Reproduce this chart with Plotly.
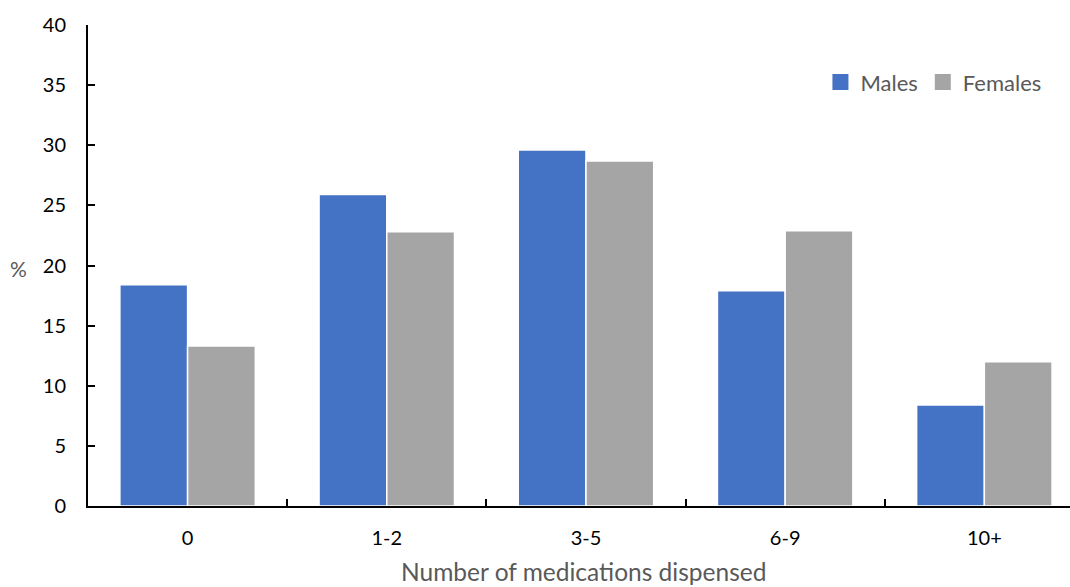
import plotly.graph_objects as go

categories = ["0", "1-2", "3-5", "6-9", "10+"]
males = [18.4, 25.9, 29.6, 17.9, 8.4]
females = [13.3, 22.8, 28.7, 22.9, 12.0]
y_ticks = [0, 5, 10, 15, 20, 25, 30, 35, 40]

FONT = "Lato"
GREY_TEXT = "#595959"
BLUE = "#4472C4"
GREY_BAR = "#A5A5A5"

fig = go.Figure()
fig.add_trace(go.Bar(x=categories, y=males, name="Males", showlegend=False,
                     marker=dict(color=BLUE, line=dict(color="white", width=1.5))))
fig.add_trace(go.Bar(x=categories, y=females, name="Females", showlegend=False,
                     marker=dict(color=GREY_BAR, line=dict(color="white", width=1.5))))

# legend entries with larger square swatches
for name, color in [("Males", BLUE), ("Females", GREY_BAR)]:
    fig.add_trace(go.Scatter(x=[None], y=[None], mode="markers", name=name,
                             marker=dict(symbol="square", size=16, color=color)))

fig.update_layout(
    width=1070, height=587,
    margin=dict(l=88, r=0, t=25, b=81),
    paper_bgcolor="white", plot_bgcolor="white",
    barmode="group", bargap=0.32, bargroupgap=0.0,
    font=dict(family=FONT, size=20, color="black"),
    showlegend=True,
    legend=dict(orientation="h", x=0.976, xanchor="right", y=0.881, yanchor="middle",
                font=dict(family=FONT, size=22, color=GREY_TEXT),
                itemsizing="trace", itemwidth=30, traceorder="normal",
                bgcolor="rgba(0,0,0,0)"),
    xaxis=dict(
        type="category", range=[-0.5, 4.43],
        showline=True, linecolor="black", linewidth=2,
        ticks="inside", tickson="boundaries", ticklen=7, tickcolor="black", tickwidth=1.5,
        ticklabelstandoff=13,
        tickfont=dict(family=FONT, size=20, color="black"),
        showgrid=False, zeroline=False,
    ),
    yaxis=dict(
        range=[0, 40], tickvals=y_ticks,
        showline=True, linecolor="black", linewidth=2,
        ticks="inside", ticklen=7, tickcolor="black", tickwidth=1.5,
        ticklabelstandoff=16,
        tickfont=dict(family=FONT, size=20, color="black"),
        showgrid=False, zeroline=False,
    ),
    annotations=[
        dict(text="%", xref="paper", yref="paper", x=-0.071, y=0.494,
             xanchor="center", yanchor="middle", showarrow=False,
             font=dict(family=FONT, size=21, color=GREY_TEXT)),
        dict(text="Number of medications dispensed", xref="paper", yref="paper",
             x=0.505, y=-0.136, xanchor="center", yanchor="middle", showarrow=False,
             font=dict(family=FONT, size=24.5, color=GREY_TEXT)),
    ],
)

fig.write_html("out.html")
